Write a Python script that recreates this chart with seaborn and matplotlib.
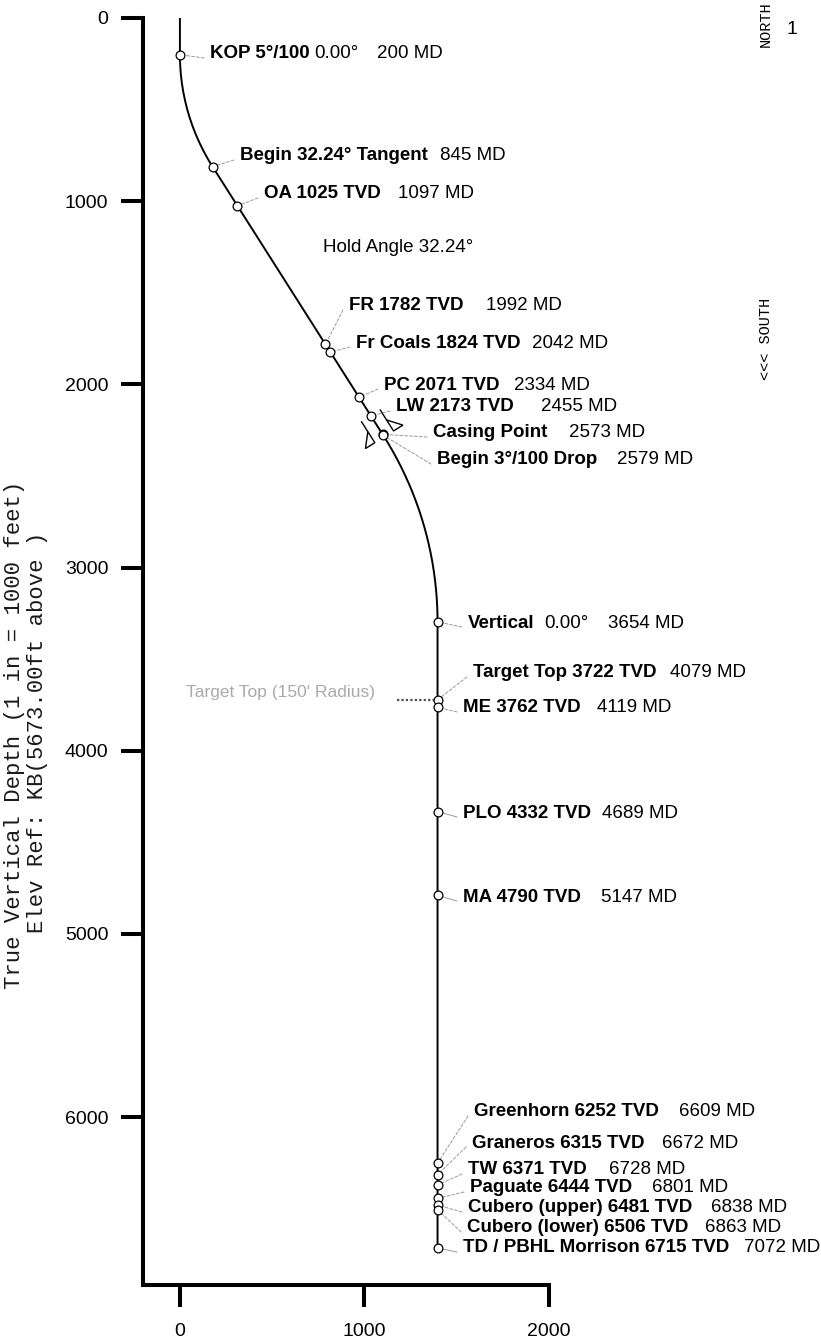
import numpy as np
import matplotlib
matplotlib.use("Agg")
import matplotlib.pyplot as plt
import seaborn as sns

# Well path survey stations (vertical section ft, TVD ft)
path_vs = [0.0, 0.0, 1.1, 4.4, 9.8, 17.4, 27.2, 39.0, 53.0, 69.1, 87.2, 107.4, 129.5,
           153.5, 176.7, 1101.6, 1127.6, 1152.7, 1176.6, 1199.2, 1220.7, 1241.1, 1260.2,
           1278.1, 1294.8, 1310.2, 1324.4, 1337.3, 1349.0, 1359.4, 1368.5, 1376.3, 1382.8,
           1388.0, 1392.0, 1394.6, 1395.9, 1396.0, 1396.0]
path_tvd = [0.0, 200.0, 250.0, 299.9, 349.6, 399.0, 448.0, 496.6, 544.6, 591.9, 638.5,
            684.3, 729.1, 773.0, 811.3, 2277.9, 2320.4, 2363.8, 2407.8, 2452.3, 2497.5,
            2543.1, 2589.3, 2636.1, 2683.0, 2730.7, 2778.6, 2826.9, 2875.6, 2924.4, 2973.6,
            3023.0, 3072.6, 3122.3, 3172.1, 3222.1, 3272.1, 3296.7, 6714.7]

# Annotated stations
names = ["KOP 5°/100", "Begin 32.24° Tangent", "OA 1025 TVD", "FR 1782 TVD",
         "Fr Coals 1824 TVD", "PC 2071 TVD", "LW 2173 TVD", "Casing Point",
         "Begin 3°/100 Drop", "Vertical", "Target Top 3722 TVD", "ME 3762 TVD",
         "PLO 4332 TVD", "MA 4790 TVD", "Greenhorn 6252 TVD", "Graneros 6315 TVD",
         "TW 6371 TVD", "Paguate 6444 TVD", "Cubero (upper) 6481 TVD",
         "Cubero (lower) 6506 TVD", "TD / PBHL Morrison 6715 TVD"]
angles = ["0.00°", "", "", "", "", "", "", "", "", "0.00°", "", "", "", "", "", "",
          "", "", "", "", ""]
md_labels = ["200 MD", "845 MD", "1097 MD", "1992 MD", "2042 MD", "2334 MD", "2455 MD",
             "2573 MD", "2579 MD", "3654 MD", "4079 MD", "4119 MD", "4689 MD", "5147 MD",
             "6609 MD", "6672 MD", "6728 MD", "6801 MD", "6838 MD", "6863 MD", "7072 MD"]
station_vs = [0.0, 176.7, 311.1, 788.5, 815.2, 971.0, 1035.5, 1098.4, 1101.6, 1396.0,
              1396.0, 1396.0, 1396.0, 1396.0, 1396.0, 1396.0, 1396.0, 1396.0, 1396.0,
              1396.0, 1396.0]
station_tvd = [200, 811, 1025, 1782, 1824, 2071, 2173, 2273, 2278, 3297, 3722, 3762,
               4332, 4790, 6252, 6315, 6371, 6444, 6481, 6506, 6715]

hold_angle = 32.24
target_vs, target_tvd, target_half_width = 1396.0, 3722.0, 220.0
y_ticks = [0, 1000, 2000, 3000, 4000, 5000, 6000]
x_ticks = [0, 1000, 2000]

# Label layout in image pixels: (left x, centre y) and gap before the MD text
label_pos = [(210, 54), (240, 156), (264, 194), (349, 306), (356, 343), (384, 385),
             (396, 407), (433, 433), (437, 460), (468, 623), (473, 673), (463, 708),
             (463, 813), (463, 897), (474, 1112), (472, 1143), (468, 1170), (470, 1188),
             (468, 1208), (467, 1228), (463, 1248)]
md_gaps = [18, 12, 17, 22, 12, 15, 27, 22, 20, 19, 14, 16, 11, 20, 20, 18, 22, 20, 19, 17, 15]
solid_leaders = {"PLO 4332 TVD", "MA 4790 TVD", "TD / PBHL Morrison 6715 TVD"}

W, H = 821, 1339
FS = 13.5


def fx(x):
    return x / W


def fy(y):
    return 1 - y / H


sns.set_theme(style="white")
plt.rcParams['font.family'] = ['Liberation Sans', 'DejaVu Sans']
plt.rcParams['text.color'] = 'black'

fig = plt.figure(figsize=(W / 100, H / 100), dpi=100)
ax = fig.add_axes([fx(143), fy(1285), (549 - 143) / W, (1285 - 18) / H])

sns.lineplot(x=path_vs, y=path_tvd, sort=False, estimator=None, color="black",
             linewidth=1.4, ax=ax, zorder=3)

# Target line
ax.plot([target_vs - target_half_width, target_vs], [target_tvd, target_tvd],
        color="0.3", lw=1.6, ls=(0, (1, 1)), zorder=2)

# Casing shoe symbol
ci = names.index("Casing Point")
c = np.array([station_vs[ci], station_tvd[ci]])
a = np.radians(hold_angle)
t = np.array([np.sin(a), np.cos(a)])
n = np.array([np.cos(a), -np.sin(a)])
for side in (1, -1):
    nn = n * side
    ax.plot(*zip(c + nn * 60 - t * 120, c + nn * 60 - t * 55), color="black", lw=1.0, zorder=3)
    tri = np.array([c + nn * 60 - t * 55, c + nn * 60 + t * 16, c + nn * 120 + t * 16])
    ax.fill(tri[:, 0], tri[:, 1], facecolor="white", edgecolor="black", lw=1.0, zorder=4)

sns.scatterplot(x=station_vs, y=station_tvd, s=40, facecolor="white", edgecolor="black",
                linewidth=0.9, ax=ax, zorder=5)

ax.set_xlim(-200, 2000)
ax.set_ylim(6917, 0)
ax.set_xticks(x_ticks)
ax.set_yticks(y_ticks)
ax.set_xlabel("")
ax.set_ylabel("")
sns.despine(ax=ax)
for s in ("left", "bottom"):
    ax.spines[s].set_linewidth(2.9)
    ax.spines[s].set_color("black")
ax.tick_params(axis="both", direction="out", length=16, width=2.9, color="black",
               labelsize=14, labelcolor="black", left=True, bottom=True)
ax.tick_params(axis="y", pad=9)
ax.tick_params(axis="x", pad=11)
ax.grid(False)

# Station labels
for i, name in enumerate(names):
    x, y = label_pos[i]
    prev = fig.text(fx(x), fy(y), name, fontsize=FS, fontweight="bold", ha="left", va="center")
    if angles[i]:
        gap = 5 if i == 0 else 10
        prev = ax.annotate(angles[i], xy=(1, 0.5), xycoords=prev, xytext=(gap * 0.72, 0),
                           textcoords="offset points", fontsize=FS, ha="left", va="center")
    ax.annotate(md_labels[i], xy=(1, 0.5), xycoords=prev, xytext=(md_gaps[i] * 0.72, 0),
                textcoords="offset points", fontsize=FS, ha="left", va="center")
    ls = "-" if name in solid_leaders else (0, (3, 2))
    ax.annotate("", xy=(station_vs[i], station_tvd[i]), xycoords="data",
                xytext=(x - 6, H - (y + 4)), textcoords="figure pixels",
                arrowprops=dict(arrowstyle="-", color="0.6", lw=0.7, linestyle=ls,
                                shrinkA=0, shrinkB=0),
                annotation_clip=False, zorder=1)

fig.text(fx(323), fy(247), "Hold Angle 32.24°", fontsize=FS, ha="left", va="center")
fig.text(fx(375), fy(693), "Target Top (150' Radius)", fontsize=12.5, color="#aaaaaa",
         ha="right", va="center")

mono = ["Liberation Mono", "DejaVu Sans Mono"]
fig.text(fx(15), fy(735), "True Vertical Depth (1 in = 1000 feet)", family=mono,
         fontsize=16, color="0.1", rotation=90, ha="center", va="center")
fig.text(fx(38), fy(732), "Elev Ref: KB(5673.00ft above )", family=mono,
         fontsize=16, color="0.1", rotation=90, ha="center", va="center")
fig.text(fx(766), fy(380), "<<< SOUTH", family=mono, fontsize=11, rotation=90,
         ha="center", va="bottom")
fig.text(fx(766), fy(1), "NORTH", family=mono, fontsize=11, rotation=90,
         ha="center", va="top")
fig.text(fx(786), fy(30), "1", fontsize=14, ha="left", va="center")

fig.savefig("out.png", dpi=100, facecolor="white")
